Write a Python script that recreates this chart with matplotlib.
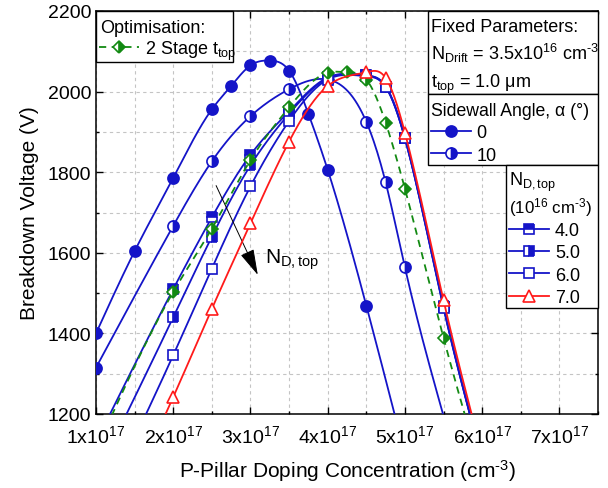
import numpy as np
import matplotlib
matplotlib.use('Agg')
import matplotlib.pyplot as plt
from matplotlib.lines import Line2D
from matplotlib.patches import Rectangle
from matplotlib.ticker import MultipleLocator, FuncFormatter

plt.rcParams['font.family'] = 'Liberation Sans'
plt.rcParams['mathtext.fontset'] = 'custom'
plt.rcParams['mathtext.rm'] = 'Liberation Sans'
plt.rcParams['mathtext.it'] = 'Liberation Sans:italic'
plt.rcParams['mathtext.bf'] = 'Liberation Sans:bold'

# P-pillar doping, units of 1e17 cm^-3 ; breakdown voltage in V
x_a0 = [1.0, 1.5, 2.0, 2.5, 2.75, 3.0, 3.25, 3.5, 3.75, 4.0, 4.5, 5.0]
v_a0 = [1400, 1604, 1786, 1956, 2014, 2065, 2077, 2052, 1945, 1806, 1469, 1100]

x_a10 = [1.0, 2.0, 2.5, 3.0, 3.5, 4.0, 4.5, 4.75, 5.0, 5.5]
v_a10 = [1315, 1667, 1827, 1939, 2006, 2030, 1925, 1775, 1564, 1195]

x_nd = [1.0, 2.0, 2.5, 3.0, 3.5, 4.0, 4.5, 4.75, 5.0, 5.5, 6.0]
v_nd40 = [1130, 1510, 1688, 1843, 1951, 2035, 2040, 2014, 1886, 1467, 1085]
v_nd50 = [1045, 1440, 1640, 1817, 1945, 2033, 2040, 2012, 1884, 1465, 1085]
v_nd60 = [940, 1346, 1561, 1765, 1927, 2030, 2038, 2012, 1884, 1463, 1085]
v_nd70 = [842, 1242, 1461, 1673, 1876, 2014, 2048, 2034, 1898, 1482, 1100]

x_opt = [1.0, 2.0, 2.5, 3.0, 3.5, 4.0, 4.25, 4.5, 4.75, 5.0, 5.5, 6.0]
v_opt = [1110, 1503, 1660, 1830, 1961, 2047, 2048, 2030, 1923, 1759, 1389, 1050]

x_ticks = [1, 2, 3, 4, 5, 6, 7]
angle_labels = ['0', '10']
nd_labels = ['4.0', '5.0', '6.0', '7.0']

blue = '#1414c8'
green = '#138a13'
red = '#ff1a1a'


def spline(xs, ys, num=300):
    # natural cubic spline, like Origin's spline connect
    x = np.asarray(xs, float)
    y = np.asarray(ys, float)
    n = len(x)
    h = np.diff(x)
    A = np.zeros((n, n))
    b = np.zeros(n)
    A[0, 0] = A[-1, -1] = 1
    for i in range(1, n - 1):
        A[i, i - 1] = h[i - 1]
        A[i, i] = 2 * (h[i - 1] + h[i])
        A[i, i + 1] = h[i]
        b[i] = 6 * ((y[i + 1] - y[i]) / h[i] - (y[i] - y[i - 1]) / h[i - 1])
    m = np.linalg.solve(A, b)
    xx = np.linspace(x[0], x[-1], num)
    k = np.clip(np.searchsorted(x, xx) - 1, 0, n - 2)
    t0 = x[k + 1] - xx
    t1 = xx - x[k]
    hk = h[k]
    yy = (m[k] * t0**3 / (6 * hk) + m[k + 1] * t1**3 / (6 * hk)
          + (y[k] / hk - m[k] * hk / 6) * t0 + (y[k + 1] / hk - m[k + 1] * hk / 6) * t1)
    return xx, yy


fig = plt.figure(figsize=(6.08, 4.89), dpi=100)
ax = fig.add_axes([96 / 608, 1 - 415 / 489, 502 / 608, 403 / 489])


def draw(xs, ys, color, marker, fill, mfc, ls='-', ms=8, z=3):
    sx, sy = spline(xs, ys)
    ax.plot(sx, sy, color=color, lw=1.3, ls=ls, zorder=z)
    xs = np.asarray(xs)
    ys = np.asarray(ys)
    keep = (ys >= 1200) & (ys <= 2200)
    style = dict(marker=marker, ms=ms, fillstyle=fill, mfc=mfc, mec=color,
                 markerfacecoloralt='white', mew=1.2)
    ax.plot(xs[keep], ys[keep], ls='none', zorder=z + 0.1, **style)
    return Line2D([], [], color=color, lw=1.3, ls=ls, **style)


h_a0 = draw(x_a0, v_a0, blue, 'o', 'full', blue, ms=8)
h_a10 = draw(x_a10, v_a10, blue, 'o', 'right', blue, ms=8)
h_40 = draw(x_nd, v_nd40, blue, 's', 'top', blue, ms=6.5)
h_50 = draw(x_nd, v_nd50, blue, 's', 'right', blue, ms=6.5)
h_60 = draw(x_nd, v_nd60, blue, 's', 'full', 'white', ms=6.5)
h_opt = draw(x_opt, v_opt, green, 'D', 'right', green, ls=(0, (4, 3)), ms=6.5, z=3.5)
h_70 = draw(x_nd, v_nd70, red, '^', 'full', 'white', ms=8.5, z=4)

ax.set_xlim(1, 7.5)
ax.set_ylim(1200, 2200)
ax.xaxis.set_minor_locator(MultipleLocator(0.5))
ax.yaxis.set_major_locator(MultipleLocator(200))
ax.yaxis.set_minor_locator(MultipleLocator(100))
ax.set_xticks(x_ticks)
ax.xaxis.set_major_formatter(FuncFormatter(lambda v, p: '%dx10$^{17}$' % round(v)))
ax.tick_params(which='both', direction='in', top=True, right=True, labelsize=14, width=1.0)
ax.tick_params(which='major', length=5)
ax.tick_params(which='minor', length=2.5)
ax.tick_params(axis='x', which='major', pad=7)
ax.grid(True, which='both', color='#c4c4c4', ls=(0, (3, 3)), lw=0.8)
ax.set_axisbelow(True)
for s in ax.spines.values():
    s.set_linewidth(1.1)

ax.set_xlabel(r'P-Pillar Doping Concentration (cm$^{\text{-3}}$)', fontsize=15, labelpad=8)
ax.set_ylabel('Breakdown Voltage (V)', fontsize=15, labelpad=6)

ax.annotate('', xy=(3.11, 1539), xytext=(2.54, 1773),
            arrowprops=dict(arrowstyle='-|>,head_length=0.9,head_width=0.25',
                            color='black', lw=0.7, mutation_scale=18))
ax.text(3.19, 1585, r'N$_{\mathrm{D,top}}$', fontsize=15, va='center')

# legend boxes
box = dict(transform=ax.transAxes, facecolor='white', edgecolor='black',
           lw=1.0, zorder=5, clip_on=False)
ax.add_patch(Rectangle((0, 0.873), 0.273, 0.127, **box))
ax.add_patch(Rectangle((0.661, 0.794), 0.339, 0.206, **box))
ax.add_patch(Rectangle((0.661, 0.618), 0.339, 0.176, **box))
ax.add_patch(Rectangle((0.817, 0.263), 0.183, 0.355, **box))

txt_kw = dict(transform=ax.transAxes, va='baseline', ha='left', zorder=6)
fixed_lines = ['Fixed Parameters:',
               r'N$_{\mathrm{Drift}}$ = 3.5x10$^{16}$ cm$^{\text{-3}}$',
               r't$_{\mathrm{top}}$ = 1.0 μm']
for txt, yy in zip(fixed_lines, [0.951, 0.882, 0.812]):
    ax.text(0.667, yy, txt, fontsize=13, **txt_kw)

ax.text(0.008, 0.947, 'Optimisation:', fontsize=13, **txt_kw)
ax.text(0.667, 0.741, 'Sidewall Angle, α (°)', fontsize=12.7, **txt_kw)
ax.text(0.823, 0.567, r'N$_{\mathrm{D,top}}$', fontsize=13, **txt_kw)
ax.text(0.822, 0.501, r'(10$^{16}$ cm$^{\text{-3}}$)', fontsize=12.2, **txt_kw)

leg_kw = dict(frameon=False, fontsize=13, borderaxespad=0, borderpad=0.15,
              handlelength=2.25, handletextpad=0.3, labelspacing=0.3,
              loc='center left')

leg1 = ax.legend([h_opt], [r'2 Stage t$_{\mathrm{top}}$'],
                 bbox_to_anchor=(0.0, 0.903), **leg_kw)
leg1.set_zorder(6)
ax.add_artist(leg1)

leg2 = ax.legend([h_a0, h_a10], angle_labels,
                 bbox_to_anchor=(0.661, 0.670), **leg_kw)
leg2.set_zorder(6)
ax.add_artist(leg2)

leg3 = ax.legend([h_40, h_50, h_60, h_70], nd_labels,
                 bbox_to_anchor=(0.817, 0.372), **leg_kw)
leg3.set_zorder(6)

fig.savefig('out.png', dpi=100)
